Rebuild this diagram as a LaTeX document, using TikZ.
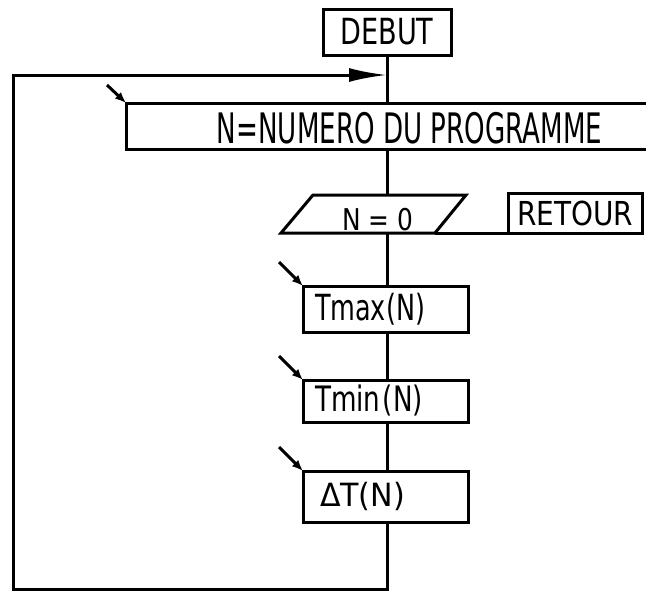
\documentclass[tikz,border=0pt]{standalone}
\usepackage{fontspec}
\setmainfont{DejaVu Sans}
\usepackage{graphicx}
\usetikzlibrary{arrows.meta}
\newcommand{\fitw}[3]{\resizebox{#1}{\height}{\fontsize{#2}{#2}\selectfont #3}}
\begin{document}
\begin{tikzpicture}[x=1pt,y=-1pt, line width=3pt, every node/.style={outer sep=0pt},
  box/.style={draw, rectangle, inner sep=0pt},
  leftbox/.style={draw, rectangle, inner ysep=0pt, inner xsep=12pt, text width=141pt, align=left, minimum height=46pt},
  bigarrow/.style={-{Latex[length=38pt,width=14pt]}},
  smallarrow/.style={-{Latex[length=11pt,width=9pt]}}]
\useasboundingbox (0,0) rectangle (646,592);
% DEBUT
\node[box, minimum width=128pt, minimum height=46pt] (debut) at (387,32) {\fitw{93pt}{36pt}{DEBUT}};
% program box (open to the right edge)
\begin{scope}
\clip (0,0) rectangle (646,592);
\node[box, minimum width=540pt, minimum height=46pt] (prog) at (396,126) {};
\end{scope}
\node (progtxt) at (409.5,128) {\fitw{385pt}{42pt}{N=NUMERO DU PROGRAMME}};
% parallelogram N = 0
\coordinate (p1) at (313,195);
\coordinate (p2) at (466,195);
\coordinate (p3) at (435,233);
\coordinate (p4) at (281,233);
\draw (p1) -- (p2) -- (p3) -- (p4) -- cycle;
\node (test) at (378,220) {\fitw{71pt}{30pt}{N = 0}};
% RETOUR
\node[box, minimum width=134pt, minimum height=40pt] (retour) at (575,213) {\fitw{116pt}{33pt}{RETOUR}};
% Tmax, Tmin, DeltaT
\node[leftbox] (tmax) at (385.5,309) {\fitw{110pt}{36pt}{Tmax(N)}};
\node[leftbox, minimum height=42pt] (tmin) at (385.5,401) {\fitw{108pt}{35pt}{Tmin (N)}};
\node[leftbox, minimum height=51pt] (dt) at (385.5,496.5) {\hspace*{5pt}\fitw{85pt}{32pt}{ΔT(N)}};
% main flow
\draw (debut.south) -- (debut.south |- prog.north);
\draw (debut.south |- prog.south) -- (debut.south |- p1);
\draw (debut.south |- p4) -- (debut.south |- tmax.north);
\draw (debut.south |- tmax.south) -- (debut.south |- tmin.north);
\draw (debut.south |- tmin.south) -- (debut.south |- dt.north);
\draw (p3) -- (retour.south west);
% loop back
\coordinate (bl) at (13,589);
\coordinate (tl) at (13,75);
\draw[bigarrow] (debut.south |- dt.south) -- (debut.south |- bl) -- (bl) -- (tl) -- (tl -| debut.south);
% input arrows
\coordinate (a1) at (107,85);
\coordinate (a2) at (279,262);
\coordinate (a3) at (279,356);
\coordinate (a4) at (279,447);
\draw[smallarrow] (a1) -- (prog.north west);
\draw[smallarrow] (a2) -- (tmax.north west);
\draw[smallarrow] (a3) -- (tmin.north west);
\draw[smallarrow] (a4) -- (dt.north west);
\end{tikzpicture}
\end{document}
